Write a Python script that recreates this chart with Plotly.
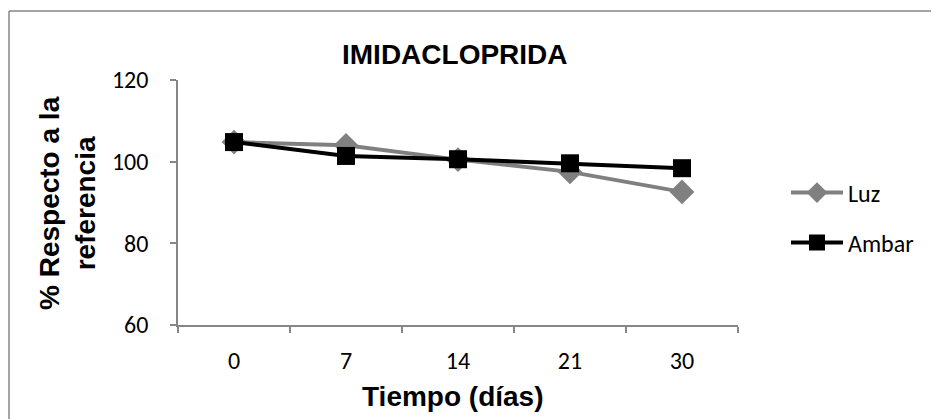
import plotly.graph_objects as go

dias = ["0", "7", "14", "21", "30"]
luz = [104.8, 104.0, 100.5, 97.5, 92.6]
ambar = [104.8, 101.4, 100.6, 99.6, 98.4]
y_ticks = [60, 80, 100, 120]

# page has an 8px body margin: figure coords = page coords - 8
OFF = 8
W, H = 939 - OFF, 419 - OFF
L, R, T, B = 178 - OFF, 738 - OFF, 80 - OFF, 325 - OFF

def px(xp):
    return (xp - OFF - L) / (R - L)

def py(yp):
    return (B - (yp - OFF)) / (B - T)

fig = go.Figure()
fig.add_trace(go.Scatter(
    x=dias, y=luz, name="Luz", mode="lines+markers",
    line=dict(color="#808080", width=4),
    marker=dict(symbol="diamond", size=19, color="#808080"),
    legend="legend",
))
fig.add_trace(go.Scatter(
    x=dias, y=ambar, name="Ambar", mode="lines+markers",
    line=dict(color="#000000", width=4),
    marker=dict(symbol="square", size=18, color="#000000"),
    legend="legend2",
))

axis_col = "#868686"
tick_font = dict(family="Carlito, Lato, sans-serif", size=24, color="#000000")

fig.update_layout(
    width=W, height=H,
    margin=dict(l=L, r=W - R, t=T, b=H - B),
    paper_bgcolor="white", plot_bgcolor="white",
    xaxis=dict(
        type="category", range=[-0.5, 4.5], showgrid=False, zeroline=False,
        showline=True, linecolor=axis_col, linewidth=1.5,
        ticks="outside", tickson="boundaries", ticklen=6, tickcolor=axis_col, tickwidth=1.5,
        tickfont=tick_font, ticklabelstandoff=13,
    ),
    yaxis=dict(
        range=[60, 120], tickvals=y_ticks, showgrid=False, zeroline=False,
        showline=True, linecolor=axis_col, linewidth=1.5,
        ticks="outside", ticklen=6, tickcolor=axis_col, tickwidth=1.5,
        tickfont=tick_font, ticklabelstandoff=17,
    ),
    legend=dict(
        x=px(786), y=py(193), xanchor="left", yanchor="middle",
        font=tick_font, bgcolor="rgba(0,0,0,0)", itemwidth=52,
    ),
    legend2=dict(
        x=px(786), y=py(243), xanchor="left", yanchor="middle",
        font=tick_font, bgcolor="rgba(0,0,0,0)", itemwidth=52,
    ),
    showlegend=True,
)

bold = dict(family="Liberation Sans, Arial, sans-serif", size=28, color="#000000")
fig.add_annotation(
    text="<b>IMIDACLOPRIDA</b>", x=px(455), y=py(54), xref="paper", yref="paper",
    showarrow=False, xanchor="center", yanchor="middle",
    font=dict(family="Liberation Sans, Arial, sans-serif", size=28, color="#000000"),
)
fig.add_annotation(
    text="<b>Tiempo (días)</b>", x=px(453), y=py(396), xref="paper", yref="paper",
    showarrow=False, xanchor="center", yanchor="middle", font=bold,
)
fig.add_annotation(
    text="<b>% Respecto a la<br>referencia</b>", x=px(67), y=py(203), xref="paper", yref="paper",
    showarrow=False, xanchor="center", yanchor="middle", textangle=-90, font=bold,
)

# chart area border (visible on top and left)
fig.add_shape(type="line", xref="paper", yref="paper",
              x0=px(9), y0=py(11), x1=px(9), y1=py(H + OFF + 5),
              line=dict(color=axis_col, width=1.5))
fig.add_shape(type="line", xref="paper", yref="paper",
              x0=px(9), y0=py(11), x1=px(W + OFF + 5), y1=py(11),
              line=dict(color=axis_col, width=1.5))

fig.write_html("out.html")
